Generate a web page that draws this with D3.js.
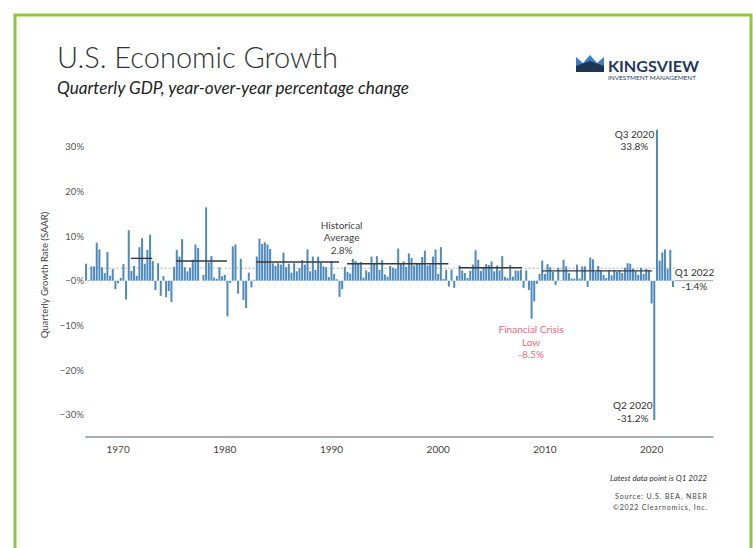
<!DOCTYPE html>
<html>
<head>
<meta charset="utf-8">
<script src="https://cdn.jsdelivr.net/npm/d3@7"></script>
<style>
body { margin: 0; background: #fff; }
svg text { font-family: Lato, "Open Sans", sans-serif; }
</style>
</head>
<body>
<div id="chart"></div>
<script>
// quarterly real GDP growth, SAAR, starting Q1 1967
var startYear = 1967;
var growth1960s = [3.8, 0.2, 3.2, 3.2, 8.5, 7.0, 3.0, 1.7, 6.4, 1.1, 2.6, -1.9];
var growth1970s = [-0.6, 0.6, 3.7, -4.2, 11.3, 2.2, 3.3, 1.1, 7.5, 9.5, 3.8, 6.9,
    10.3, 4.4, -2.1, 3.9, -3.4, 1.0, -3.7, -2.3, -4.8, 3.1, 6.9, 5.4,
    9.3, 3.0, 2.1, 2.9, 4.7, 8.1, 7.3, 0.0, 1.3, 16.4, 4.1, 5.5,
    0.7, 0.4, 3.0, 1.0];
var growth1980s = [1.3, -8.0, -0.5, 7.7, 8.1, -2.9, 4.9, -4.3, -6.1, 1.8, -1.5, 0.2,
    5.4, 9.4, 8.2, 8.6, 8.1, 7.1, 3.9, 3.3, 3.9, 3.6, 6.3, 3.0,
    3.8, 1.8, 3.9, 2.1, 2.8, 4.6, 3.6, 7.0, 2.1, 5.4, 2.4, 5.4,
    4.1, 3.2, 3.0, 0.8];
var growth1990s = [4.4, 1.5, 0.3, -3.6, -1.9, 3.1, 2.0, 1.6, 4.9, 4.4, 4.0, 4.2,
    0.7, 2.3, 1.9, 5.4, 3.9, 5.5, 2.4, 4.6, 1.4, 0.9, 3.3, 2.9,
    2.7, 7.2, 3.7, 4.3, 3.1, 6.1, 5.1, 3.4, 4.0, 3.8, 5.3, 6.7,
    3.4, 3.6, 5.4, 7.0];
var growth2000s = [1.5, 7.5, 0.4, 2.4, -1.3, 2.5, -1.6, 1.1, 3.4, 2.3, 1.7, 0.6,
    2.2, 3.6, 6.8, 4.7, 2.2, 3.0, 3.7, 3.5, 4.3, 2.1, 3.4, 2.3,
    5.5, 0.9, 0.6, 3.5, 0.9, 2.3, 2.2, 2.5, -1.6, 2.3, -2.1, -8.5,
    -4.6, -0.7, 1.5, 4.5];
var growth2010s = [1.5, 3.7, 3.0, 2.0, -1.0, 2.9, -0.1, 4.7, 3.2, 1.7, 0.5, 0.5,
    3.6, 0.5, 3.2, 3.2, -1.4, 5.2, 4.8, 2.0, 3.3, 2.3, 1.3, 0.6,
    2.4, 1.2, 2.4, 2.0, 2.3, 1.7, 2.9, 3.9, 3.8, 2.7, 2.1, 1.3,
    2.9, 1.5, 2.6, 2.4];
var growth2020s = [-5.1, -31.2, 33.8, 4.5, 6.3, 7.0, 2.7, 6.9, -1.4];

// expansion averages
var avgStart = [1971.25, 1975.5, 1983.0, 1991.5, 2002.0, 2009.75];
var avgEnd = [1973.25, 1980.25, 1990.75, 2001.0, 2007.9, 2020.1];
var avgValue = [5.0, 4.4, 4.2, 3.8, 2.9, 2.2];
var historicalAverage = 2.8;

var yTicks = [-30, -20, -10, 0, 10, 20, 30];
var yTickLabels = ["\u221230%", "\u221220%", "\u221210%", "\u22120%", "10%", "20%", "30%"];
var xTicks = [1970, 1980, 1990, 2000, 2010, 2020];

function init() {
    var growth = growth1960s.concat(growth1970s, growth1980s, growth1990s, growth2000s, growth2010s, growth2020s);
    var dataset = growth.map(function (v, i) {
        return { t: startYear + i / 4, value: v };
    });
    svgChartCreate(dataset);
}

function svgChartCreate(dataset) {
    var w = 753;
    var h = 548;

    var svg = d3.select("#chart")
        .append("svg")
        .attr("width", w)
        .attr("height", h);

    // green frame
    svg.append("rect")
        .attr("x", 15).attr("y", 15)
        .attr("width", 736).attr("height", 560)
        .attr("fill", "none")
        .attr("stroke", "#8fc840")
        .attr("stroke-width", 3);

    svg.append("text")
        .attr("x", 57).attr("y", 68)
        .attr("font-size", 29)
        .attr("font-weight", 300)
        .attr("fill", "#2e3338")
        .attr("textLength", 281)
        .attr("lengthAdjust", "spacingAndGlyphs")
        .text("U.S. Economic Growth");

    svg.append("text")
        .attr("x", 57).attr("y", 94)
        .attr("font-size", 16.5)
        .attr("font-style", "italic")
        .attr("fill", "#222")
        .attr("textLength", 352)
        .attr("lengthAdjust", "spacingAndGlyphs")
        .text("Quarterly GDP, year-over-year percentage change");

    // logo
    var logo = svg.append("g");
    logo.append("polygon")
        .attr("points", "576,57 583,63 590,55 597,63 604,57 604,72 576,72")
        .attr("fill", "#3b7fc2");
    logo.append("polygon")
        .attr("points", "576,66 590,61 604,66 604,72 576,72")
        .attr("fill", "#1d3557");
    logo.append("text")
        .attr("x", 608).attr("y", 72)
        .attr("font-size", 15)
        .attr("font-weight", "bold")
        .attr("fill", "#1f3a5c")
        .attr("textLength", 91)
        .attr("lengthAdjust", "spacingAndGlyphs")
        .text("KINGSVIEW");
    logo.append("text")
        .attr("x", 608).attr("y", 80)
        .attr("font-size", 5.5)
        .attr("fill", "#1f3a5c")
        .attr("textLength", 88)
        .attr("lengthAdjust", "spacingAndGlyphs")
        .text("INVESTMENT MANAGEMENT");

    var xScale = d3.scaleLinear()
        .domain([1966.9, 2025.8])
        .range([84.5, 713]);

    var yScale = d3.scaleLinear()
        .domain([-30, 30])
        .range([414.8, 146.6]);

    // historical average (dashed)
    svg.append("line")
        .attr("x1", xScale(startYear) - 1)
        .attr("x2", xScale(2022.35))
        .attr("y1", yScale(historicalAverage))
        .attr("y2", yScale(historicalAverage))
        .attr("stroke", "#9a9a9a")
        .attr("stroke-width", 0.8)
        .attr("stroke-dasharray", "2,2");

    svg.selectAll("rect.bar")
        .data(dataset)
        .enter()
        .append("rect")
        .attr("class", "bar")
        .attr("x", function (d) { return xScale(d.t) - 0.5; })
        .attr("y", function (d) { return yScale(Math.max(0, d.value)); })
        .attr("width", 2)
        .attr("height", function (d) { return Math.abs(yScale(d.value) - yScale(0)); })
        .attr("fill", "#4f8abd");

    // expansion averages
    svg.selectAll("line.avg")
        .data(avgValue)
        .enter()
        .append("line")
        .attr("class", "avg")
        .attr("x1", function (d, i) { return xScale(avgStart[i]); })
        .attr("x2", function (d, i) { return xScale(avgEnd[i]); })
        .attr("y1", function (d) { return yScale(d); })
        .attr("y2", function (d) { return yScale(d); })
        .attr("stroke", "#3a3a3a")
        .attr("stroke-width", 1.4);

    // zero leader line after latest point
    svg.append("line")
        .attr("x1", xScale(2022) + 2).attr("x2", 713)
        .attr("y1", yScale(0)).attr("y2", yScale(0))
        .attr("stroke", "#a0a0a0")
        .attr("stroke-width", 1);

    // Axis Code
    var yAxis = d3.axisLeft()
        .scale(yScale)
        .tickValues(yTicks)
        .tickSize(0)
        .tickPadding(0)
        .tickFormat(function (d, i) { return yTickLabels[i]; });

    var gy = svg.append("g")
        .attr("transform", "translate(84, 0)")
        .call(yAxis);
    gy.select(".domain").remove();
    gy.selectAll("text")
        .attr("font-family", "Lato, sans-serif")
        .attr("font-size", 9.5)
        .attr("fill", "#555");

    var xAxis = d3.axisBottom()
        .scale(xScale)
        .tickValues(xTicks)
        .tickSize(0)
        .tickPadding(9)
        .tickFormat(d3.format("d"));

    var gx = svg.append("g")
        .attr("transform", "translate(0, 436.5)")
        .call(xAxis);
    gx.select(".domain")
        .attr("stroke", "#8c939b")
        .attr("stroke-width", 1.5);
    gx.selectAll("text")
        .attr("font-family", "Lato, sans-serif")
        .attr("font-size", 10)
        .attr("fill", "#444");

    svg.append("text")
        .attr("transform", "translate(48, 275) rotate(-90)")
        .attr("text-anchor", "middle")
        .attr("font-size", 9.5)
        .attr("fill", "#444")
        .text("Quarterly Growth Rate (SAAR)");

    // annotations
    function note(lines, x, y, color, anchor) {
        var t = svg.append("text")
            .attr("text-anchor", anchor || "middle")
            .attr("font-size", 10)
            .attr("fill", color);
        lines.forEach(function (s, i) {
            t.append("tspan").attr("x", x).attr("y", y + i * 12.5).text(s);
        });
    }

    note(["Historical", "Average", "2.8%"], xScale(1991), 228.5, "#444");
    note(["Financial Crisis", "Low", "-8.5%"], xScale(2008.75), yScale(-8.5) + 14.5, "#e0707a");
    note(["Q3 2020", "33.8%"], xScale(2020.5) - 22, 137.5, "#333");
    note(["Q2 2020", "-31.2%"], xScale(2020.25) - 21, 409, "#333");
    svg.append("text")
        .attr("x", xScale(2022) + 22).attr("y", yScale(0) - 4.5)
        .attr("text-anchor", "middle").attr("font-size", 10).attr("fill", "#333")
        .text("Q1 2022");
    svg.append("text")
        .attr("x", xScale(2022) + 22).attr("y", yScale(0) + 9)
        .attr("text-anchor", "middle").attr("font-size", 10).attr("fill", "#333")
        .text("-1.4%");

    // footer
    svg.append("text")
        .attr("x", 707).attr("y", 481)
        .attr("text-anchor", "end")
        .attr("font-size", 8.5)
        .attr("font-style", "italic")
        .attr("fill", "#333")
        .attr("textLength", 97)
        .attr("lengthAdjust", "spacingAndGlyphs")
        .text("Latest data point is Q1 2022");
    svg.append("text")
        .attr("x", 707).attr("y", 499)
        .attr("text-anchor", "end")
        .attr("font-size", 7)
        .attr("fill", "#444")
        .attr("textLength", 92)
        .attr("lengthAdjust", "spacing")
        .text("Source: U.S. BEA, NBER");
    svg.append("text")
        .attr("x", 707).attr("y", 510)
        .attr("text-anchor", "end")
        .attr("font-size", 7)
        .attr("fill", "#444")
        .attr("textLength", 94)
        .attr("lengthAdjust", "spacing")
        .text("\u00a92022 Clearnomics, Inc.");
}

window.onload = init;
</script>
</body>
</html>
